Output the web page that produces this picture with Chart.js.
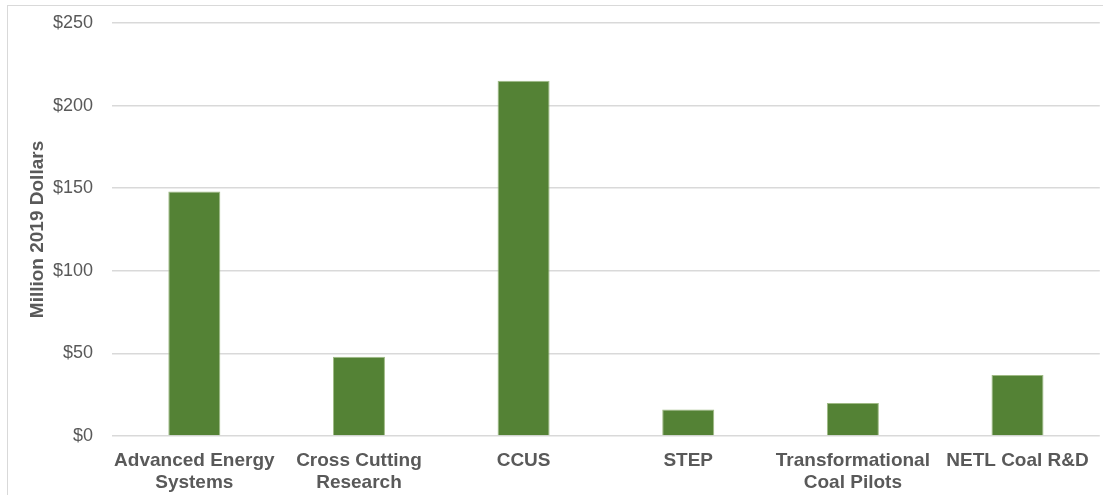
<!DOCTYPE html>
<html>
<head>
<meta charset="utf-8">
<script src="https://cdn.jsdelivr.net/npm/chart.js@4.4.1/dist/chart.umd.min.js"></script>
<style>
  html, body { margin: 0; padding: 0; background: #fff; }
  #wrap { position: relative; width: 1103px; height: 495px; overflow: hidden; }
  #frame { position: absolute; left: 7px; top: 5px; width: 1200px; height: 600px;
           border-top: 1px solid #d9d9d9; border-left: 1px solid #d9d9d9; }
  #chart { position: absolute; left: 0; top: 0; }
</style>
</head>
<body>
<div id="wrap">
  <div id="frame"></div>
  <canvas id="chart" width="1103" height="495"></canvas>
</div>
<script>
let categories = [
    ['Advanced Energy', 'Systems'],
    ['Cross Cutting', 'Research'],
    'CCUS',
    'STEP',
    ['Transformational', 'Coal Pilots'],
    'NETL Coal R&D'
];
let funding = [148, 48, 215, 16, 20, 37];
let yTicks = [0, 50, 100, 150, 200, 250];

let ctx = document.getElementById('chart');

let myBarChart = new Chart(ctx, {
    type: 'bar',
    data: {
        labels: categories,
        datasets: [{
            data: funding,
            backgroundColor: '#548235',
            borderColor: '#9fba85',
            borderWidth: 1,
            categoryPercentage: 1,
            barPercentage: 0.316
        }]
    },
    options: {
        responsive: false,
        animation: false,
        layout: { padding: { left: 26, right: 3, top: 3, bottom: 2 } },
        plugins: {
            legend: { display: false },
            tooltip: { enabled: false }
        },
        scales: {
            x: {
                grid: { display: false, drawTicks: false },
                border: { display: false },
                afterFit: function (axis) { axis.height = 57; },
                ticks: {
                    color: '#595959',
                    maxRotation: 0,
                    autoSkip: false,
                    padding: 14,
                    font: { family: 'Liberation Sans, Arial', size: 19, weight: 'bold', lineHeight: 1.16 }
                }
            },
            y: {
                min: 0,
                max: 250,
                afterBuildTicks: function (axis) {
                    axis.ticks = yTicks.map(function (v) { return { value: v }; });
                },
                afterFit: function (axis) {
                    axis.width = 86;
                    axis.paddingTop = 23;
                    axis.paddingBottom = 0;
                },
                grid: { color: '#d9d9d9', drawTicks: false, lineWidth: 1.5 },
                border: { display: false },
                ticks: {
                    color: '#595959',
                    padding: 19,
                    font: { family: 'Liberation Sans, Arial', size: 18 },
                    callback: function (v) { return '$' + v; }
                },
                title: {
                    display: true,
                    text: 'Million 2019 Dollars',
                    color: '#595959',
                    padding: { top: 0, bottom: 4 },
                    font: { family: 'Liberation Sans, Arial', size: 19, weight: 'bold' }
                }
            }
        }
    }
});
</script>
</body>
</html>
